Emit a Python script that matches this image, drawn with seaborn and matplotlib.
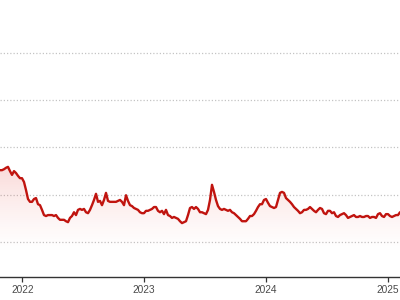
import numpy as np
import pandas as pd
import matplotlib
matplotlib.use("Agg")
import matplotlib.pyplot as plt
import matplotlib.dates as mdates
import seaborn as sns

# ---- data ----
start_date = "2021-10-26"
step = "6D"
values = [
    25.2, 25.2, 25.4, 25.7, 25.9, 25.0, 24.2, 25.0, 24.6, 24.0,
    23.5, 23.5, 22.7, 21.0, 19.1, 18.5, 18.5, 19.1, 19.3, 18.0,
    17.8, 16.8, 15.7, 15.5, 15.7, 15.7, 15.7, 15.5, 15.7, 15.1,
    14.7, 14.7, 14.7, 14.4, 14.2, 15.1, 15.5, 16.3, 15.7, 16.8,
    17.0, 16.8, 17.0, 16.3, 16.1, 16.8, 17.8, 18.9, 20.2, 18.5,
    18.7, 17.8, 18.9, 20.4, 18.7, 18.5, 18.5, 18.5, 18.5, 18.7,
    18.9, 18.5, 17.8, 19.9, 18.7, 17.8, 17.6, 17.2, 17.0, 16.8,
    16.3, 16.1, 16.1, 16.6, 16.6, 16.8, 17.0, 17.4, 17.4, 16.6,
    16.3, 16.6, 15.9, 16.8, 15.7, 15.5, 15.1, 15.3, 15.1, 14.9,
    14.4, 14.0, 14.2, 14.4, 15.7, 17.2, 17.4, 17.0, 17.4, 17.0,
    16.3, 16.3, 16.1, 15.9, 16.8, 18.9, 22.1, 20.6, 18.9, 17.6,
    17.0, 16.8, 17.0, 16.8, 16.6, 16.8, 16.3, 16.1, 15.7, 15.3,
    14.9, 14.4, 14.4, 14.4, 14.9, 15.5, 15.5, 15.9, 16.6, 17.4,
    18.0, 18.0, 18.9, 19.1, 18.3, 17.6, 17.4, 17.2, 17.4, 18.9,
    20.4, 20.6, 20.4, 19.3, 18.9, 18.5, 18.0, 17.4, 17.0, 16.6,
    16.1, 16.3, 16.8, 16.8, 17.0, 17.4, 17.0, 16.6, 16.3, 16.8,
    17.2, 17.0, 16.1, 15.9, 16.6, 16.6, 16.1, 16.3, 15.5, 15.3,
    15.7, 15.9, 16.1, 15.7, 15.1, 15.3, 15.5, 15.7, 15.3, 15.3,
    15.5, 15.3, 15.3, 15.5, 15.5, 15.1, 15.3, 15.3, 15.1, 15.9,
    16.1, 15.5, 15.3, 15.9, 15.9, 15.5, 15.3, 15.5, 15.7, 15.7,
    16.3,
]
grid_values = [10, 20, 30, 40, 50]
tick_years = ["2022", "2023", "2024", "2025"]

dates = pd.date_range(start=start_date, periods=len(values), freq=step)
df = pd.DataFrame({"date": dates, "value": values})

# ---- styling ----
sns.set_theme(style="white")
plt.rcParams["font.family"] = ["Liberation Sans", "DejaVu Sans"]

LINE = "#c0140f"
y_low, y_high = 2.6, 61.2

fig = plt.figure(figsize=(4, 3), dpi=100)
ax = fig.add_axes([0, 23 / 300, 1, 277 / 300])

# gradient fill under the line
xnum = mdates.date2num(df["date"])
poly = ax.fill_between(df["date"], df["value"], y_low, color="none", lw=0)
vmax = max(values)
grad = np.linspace(0, 1, 256).reshape(-1, 1)
rgba = np.zeros((256, 1, 4))
rgba[..., 0] = 0.88
rgba[..., 1] = 0.15
rgba[..., 2] = 0.12
rgba[..., 3] = 0.17 * grad[:, :] ** 1.4
img = ax.imshow(rgba, aspect="auto", origin="lower",
                extent=[xnum[0], xnum[-1], 7, vmax], zorder=1)
path = poly.get_paths()[0]
img.set_clip_path(path, transform=ax.transData)

for g in grid_values:
    ax.axhline(g, color="#c4c4c4", lw=0.9, ls=(0, (1, 1.6)), zorder=0.5)

sns.lineplot(data=df, x="date", y="value", ax=ax, color=LINE, lw=1.7, zorder=3)

ax.set_xlim(dates[0], dates[-1])
ax.set_ylim(y_low, y_high)
ax.set_yticks([])
ax.set_xlabel("")
ax.set_ylabel("")
for s in ["top", "left", "right"]:
    ax.spines[s].set_visible(False)
ax.spines["bottom"].set_color("#333333")
ax.spines["bottom"].set_linewidth(1.0)

ax.set_xticks([pd.Timestamp(f"{y}-01-01") for y in tick_years])
ax.set_xticklabels(tick_years)
ax.tick_params(axis="x", bottom=True, length=3.5, width=0.9, color="#333333",
               labelsize=7.3, labelcolor="#4a4a4a", pad=2)
ax.grid(False)
ax.patch.set_alpha(0)

fig.savefig("out.png", dpi=100)
